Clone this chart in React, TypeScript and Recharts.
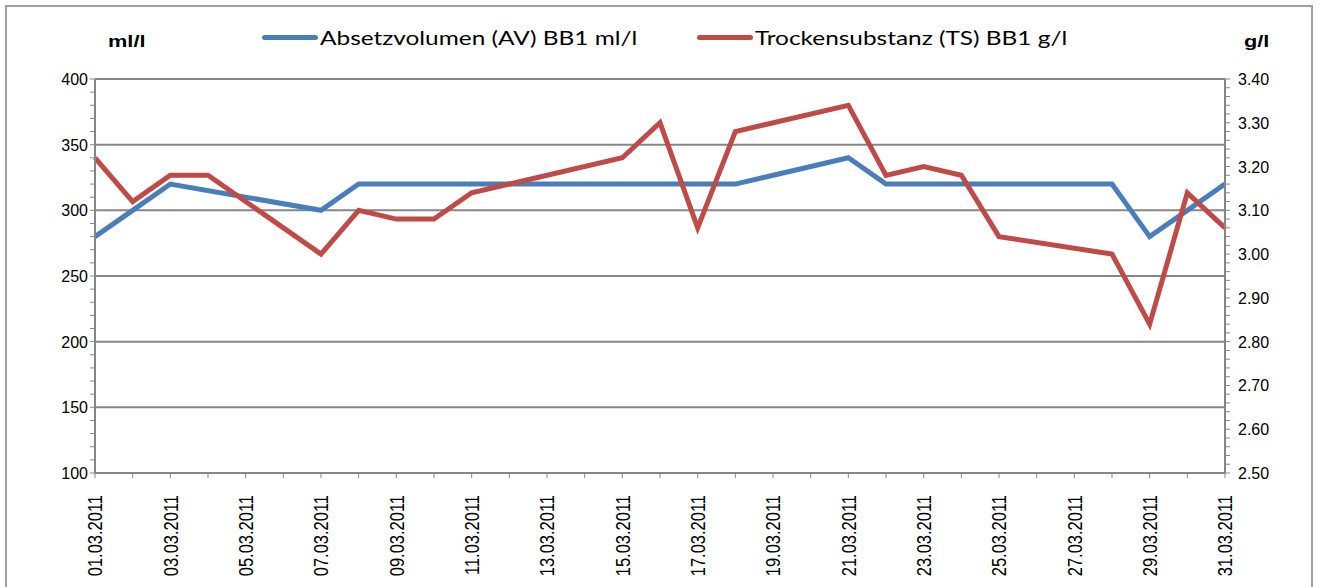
import { LineChart, Line, XAxis, YAxis, CartesianGrid } from 'recharts'

// Messwerte März 2011, BB1
const days = [
	'01.03.2011', '02.03.2011', '03.03.2011', '04.03.2011', '05.03.2011', '06.03.2011', '07.03.2011', '08.03.2011',
	'09.03.2011', '10.03.2011', '11.03.2011', '12.03.2011', '13.03.2011', '14.03.2011', '15.03.2011', '16.03.2011',
	'17.03.2011', '18.03.2011', '19.03.2011', '20.03.2011', '21.03.2011', '22.03.2011', '23.03.2011', '24.03.2011',
	'25.03.2011', '26.03.2011', '27.03.2011', '28.03.2011', '29.03.2011', '30.03.2011', '31.03.2011',
]

const av = [
	280, 300, 320, null, null, null, 300, 320, 320, 320, 320, null, null, null, 320, 320,
	320, 320, null, null, 340, 320, 320, 320, 320, null, null, 320, 280, 300, 320,
]

const ts = [
	3.22, 3.12, 3.18, 3.18, null, null, 3.0, 3.1, 3.08, 3.08, 3.14, null, null, null, 3.22, 3.3,
	3.06, 3.28, null, null, 3.34, 3.18, 3.2, 3.18, 3.04, null, null, 3.0, 2.84, 3.14, 3.06,
]

const leftTicks = [100, 150, 200, 250, 300, 350, 400]
const rightTicks = [2.5, 2.6, 2.7, 2.8, 2.9, 3.0, 3.1, 3.2, 3.3, 3.4]

const avName = 'Absetzvolumen (AV) BB1 ml/l'
const tsName = 'Trockensubstanz (TS) BB1 g/l'

const BLUE = '#4A7EBB'
const RED = '#BE4B48'
const GREY = '#868686'

const data = days.map((d, i) => ({ day: d, av: av[i], ts: ts[i] }))

// kleine Striche an den Achsen
const leftMinor: number[] = []
for (let v = 100; v <= 400; v += 10) leftMinor.push(v)
const rightMinor: number[] = []
for (let i = 0; i <= 45; i++) rightMinor.push(Math.round((2.5 + i * 0.02) * 100) / 100)

const ARIAL = 'Liberation Sans, Arial, sans-serif'

const LeftTick = (props: any) => {
	const { x, y, payload } = props
	if (!leftTicks.includes(payload.value)) return <g />
	return (
		<text x={x} y={y} dy={6} textAnchor="end" fontFamily={ARIAL} fontSize={16} fill="#000">
			{payload.value}
		</text>
	)
}

const RightTick = (props: any) => {
	const { x, y, payload } = props
	if (!rightTicks.some((t) => Math.abs(t - payload.value) < 0.001)) return <g />
	return (
		<text x={x} y={y} dy={6} textAnchor="start" fontFamily={ARIAL} fontSize={16} fill="#000">
			{payload.value.toFixed(2)}
		</text>
	)
}

const DayTick = (props: any) => {
	const { x, y, payload, index } = props
	if (index % 2 !== 0) return <g />
	return (
		<g transform={`translate(${x}, ${y}) scale(1.25, 1) rotate(-90)`}>
			<text x={0} y={0} dy="0.36em" textAnchor="end" fontFamily={ARIAL} fontSize={16.5} fill="#000">
				{payload.value}
			</text>
		</g>
	)
}

const legendText = {
	fontFamily: 'Lato, "Open Sans", sans-serif',
	fontSize: 20,
	color: '#000',
	whiteSpace: 'nowrap' as const,
	display: 'inline-block',
	transform: 'scaleX(1.22)',
	transformOrigin: 'left center',
}

const unitText = {
	position: 'absolute' as const,
	top: 32,
	fontFamily: ARIAL,
	fontWeight: 'bold' as const,
	fontSize: 17,
	transform: 'scaleX(1.28)',
	transformOrigin: 'left center',
}

export default function App() {
	return (
		<div style={{ position: 'absolute', left: 0, top: 0, width: 1323, height: 587, background: '#fff', overflow: 'hidden' }}>
			<LineChart width={1323} height={587} data={data} margin={{ top: 79, right: 0, bottom: 0, left: 0 }}>
				<CartesianGrid yAxisId="left" vertical={false} horizontalValues={leftTicks} stroke={GREY} strokeWidth={2} />
				<XAxis
					dataKey="day"
					interval={0}
					height={114}
					tick={<DayTick />}
					tickSize={5}
					tickMargin={17}
					axisLine={{ stroke: GREY, strokeWidth: 2 }}
					tickLine={{ stroke: GREY }}
				/>
				<YAxis
					yAxisId="left"
					domain={[100, 400]}
					ticks={leftMinor}
					interval={0}
					width={95}
					tickSize={5}
					tickMargin={2}
					tick={<LeftTick />}
					axisLine={{ stroke: GREY, strokeWidth: 2 }}
					tickLine={{ stroke: GREY }}
				/>
				<YAxis
					yAxisId="right"
					orientation="right"
					domain={[2.5, 3.4]}
					ticks={rightMinor}
					interval={0}
					width={98}
					tickSize={5}
					tickMargin={8}
					tick={<RightTick />}
					axisLine={{ stroke: GREY, strokeWidth: 2 }}
					tickLine={{ stroke: GREY }}
				/>
				<Line
					yAxisId="left"
					dataKey="av"
					name={avName}
					stroke={BLUE}
					strokeWidth={5}
					dot={false}
					connectNulls
					isAnimationActive={false}
				/>
				<Line
					yAxisId="right"
					dataKey="ts"
					name={tsName}
					stroke={RED}
					strokeWidth={5}
					dot={false}
					connectNulls
					isAnimationActive={false}
				/>
			</LineChart>

			<div style={{ ...unitText, left: 108 }}>ml/l</div>
			<div style={{ ...unitText, left: 1244 }}>g/l</div>

			<div style={{ position: 'absolute', left: 262, top: 25, display: 'flex', alignItems: 'center' }}>
				<span style={{ display: 'inline-block', width: 56, height: 5, background: BLUE, borderRadius: 3 }} />
				<span style={{ ...legendText, marginLeft: 2 }}>{avName}</span>
			</div>
			<div style={{ position: 'absolute', left: 697, top: 25, display: 'flex', alignItems: 'center' }}>
				<span style={{ display: 'inline-block', width: 56, height: 5, background: RED, borderRadius: 3 }} />
				<span style={{ ...legendText, marginLeft: 2 }}>{tsName}</span>
			</div>

			<div
				style={{
					position: 'absolute',
					left: 5,
					top: 5,
					width: 1308,
					height: 590,
					border: '2px solid #a0a0a0',
					borderBottom: 'none',
					boxSizing: 'border-box',
					pointerEvents: 'none',
				}}
			/>
		</div>
	)
}
